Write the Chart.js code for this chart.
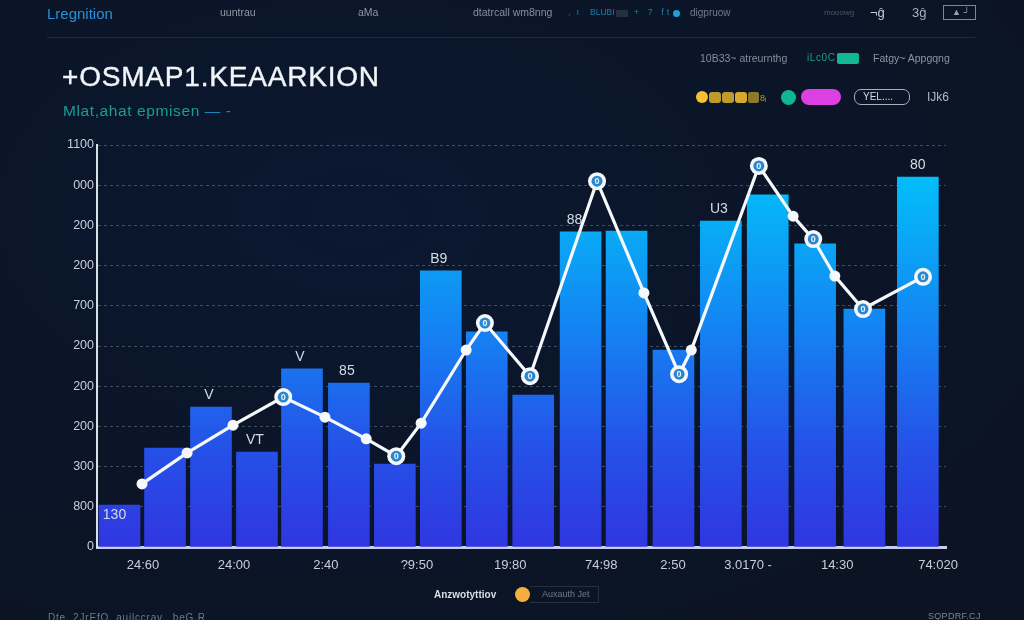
<!DOCTYPE html>
<html><head><meta charset="utf-8">
<script src="https://cdn.jsdelivr.net/npm/chart.js@4/dist/chart.umd.min.js"></script>
<style>
html,body{margin:0;padding:0;width:1024px;height:620px;overflow:hidden;background:radial-gradient(ellipse 75% 75% at 35% 35%,#0a1830 0%,#0b1528 60%,#0c1423 100%);font-family:"Liberation Sans",sans-serif}
canvas{position:absolute;left:0;top:0}
.t{position:absolute;white-space:nowrap;line-height:1}
.b{position:absolute;box-sizing:border-box}
</style></head><body>
<canvas id="c" width="1024" height="620"></canvas>
<div class="t" style="left:47px;top:6px;font-size:15px;color:#2a8fd8">Lregnition</div>
<div class="t" style="left:220px;top:7px;font-size:10.5px;color:#8f98a4">uuntrau</div>
<div class="t" style="left:358px;top:7px;font-size:10.5px;color:#8f98a4">aMa</div>
<div class="t" style="left:473px;top:7px;font-size:10.5px;color:#84909e">dtatrcall wm8nng</div>
<div class="t" style="left:568px;top:8px;font-size:9px;color:#1c7fa8;letter-spacing:6px">,ı</div>
<div class="t" style="left:590px;top:8px;font-size:8.5px;color:#1c7fa8">BLUBI</div>
<div class="b" style="left:616px;top:10px;width:12px;height:7px;background:#22303f"></div>
<div class="t" style="left:634px;top:8px;font-size:9px;color:#1c7fa8;letter-spacing:3px">+ 7 ft</div>
<div class="b" style="left:673px;top:10px;width:7px;height:7px;border-radius:50%;background:#1ea0d8"></div>
<div class="t" style="left:690px;top:8px;font-size:10px;color:#6f7c8c">digpruow</div>
<div class="t" style="left:824px;top:9px;font-size:8px;color:#4a5566">mooowg</div>
<div class="t" style="left:870px;top:6px;font-size:13px;color:#c4ccd6">¬ĝ</div>
<div class="t" style="left:912px;top:6px;font-size:13px;color:#a8b0bc">3ĝ</div>
<div class="b" style="left:943px;top:5px;width:33px;height:15px;border:1px solid #7c8694"></div>
<div class="t" style="left:952px;top:8px;font-size:9px;color:#9aa4b0">▲ ┘</div>
<div class="b" style="left:47px;top:37px;width:928px;height:1px;background:#1c2b44"></div>

<div class="t" style="left:62px;top:63px;font-size:28px;color:#f2f5f8;font-weight:400;letter-spacing:.8px;-webkit-text-stroke:.4px #f2f5f8">+OSMAP1.KEAARKION</div>
<div class="t" style="left:63px;top:103px;font-size:15.5px;color:#1c9c95;letter-spacing:.6px">Mlat,ahat epmisen <span style="color:#1d86b8">— -</span></div>

<div class="t" style="left:700px;top:53px;font-size:10.5px;color:#848d99">10B33~ atreurnthg</div>
<div class="t" style="left:807px;top:53px;font-size:10px;color:#14a08c;letter-spacing:.6px">iLc0C</div>
<div class="b" style="left:837px;top:53px;width:22px;height:11px;border-radius:2px;background:#12b692"></div>
<div class="t" style="left:873px;top:53px;font-size:10.5px;color:#8c96a0">Fatgy~ Appgqng</div>

<div class="b" style="left:696px;top:91px;width:12px;height:12px;border-radius:50%;background:#f7c02f"></div>
<div class="b" style="left:709px;top:92px;width:12px;height:11px;border-radius:3px;background:#c09a2c"></div>
<div class="b" style="left:722px;top:92px;width:12px;height:11px;border-radius:3px;background:#c09a2c"></div>
<div class="b" style="left:735px;top:92px;width:12px;height:11px;border-radius:3px;background:#d8a82c"></div>
<div class="b" style="left:748px;top:92px;width:11px;height:11px;border-radius:2px;background:#8c7a2c"></div>
<div class="t" style="left:760px;top:94px;font-size:9px;color:#b09a3c">8ᵢ</div>
<div class="b" style="left:781px;top:90px;width:15px;height:15px;border-radius:50%;background:#10b795"></div>
<div class="b" style="left:801px;top:89px;width:40px;height:16px;border-radius:8px;background:#dc3fe2"></div>
<div class="b" style="left:854px;top:89px;width:56px;height:16px;border-radius:7px;border:1px solid #a7b0bc"></div>
<div class="t" style="left:863px;top:92px;font-size:10px;color:#d5dbe2">YEL....</div>
<div class="t" style="left:927px;top:91px;font-size:12px;color:#b0b8c2">IJk6</div>

<div class="t" style="left:434px;top:590px;font-size:10px;font-weight:700;color:#d8dee6">Anzwotyttiov</div>
<div class="b" style="left:515px;top:587px;width:15px;height:15px;border-radius:50%;background:#f6ae3e"></div>
<div class="b" style="left:530px;top:586px;width:69px;height:17px;border:1px solid #26303f;border-left:none"></div>
<div class="t" style="left:542px;top:590px;font-size:9px;color:#707c8a">Auxauth Jet</div>
<div class="t" style="left:48px;top:613px;font-size:10px;color:#6f7a88;letter-spacing:.8px">Dte, 2JrEfO. auilccrav.. beG.R</div>
<div class="t" style="left:928px;top:612px;font-size:9px;color:#7a8592;letter-spacing:.3px">SQPDRF.CJ</div>

<script>
const barX = [0,.97,1.95,2.93,3.89,4.89,5.87,6.85,7.83,8.82,9.83,10.81,11.81,12.82,13.82,14.83,15.88,17.02];
const barValues = [104,246,348,236,443,408,206,687,535,378,784,786,490,811,876,754,592,920];
const barLabels = ['130','','V','VT','V','85','','B9','','','88','','','U3','','','','80'];
const lineX = [.48,1.44,2.42,3.49,4.38,5.26,5.9,6.43,7.39,7.79,8.75,10.18,11.18,11.93,12.19,13.63,14.36,14.79,15.25,15.85,17.13];
const lineValues = [157,234,303,373,323,269,226,308,490,557,425,910,632,430,490,948,823,766,674,592,672];
const lineRing = [0,0,0,1,0,0,1,0,0,1,1,1,0,1,0,1,0,1,0,1,1];
const yTickLabels = ['0','800','300','200','200','200','700','200','200','000','1100'];
const xTickPos = [.5,2.44,4.4,6.34,8.33,10.27,11.8,13.4,15.3,17.45];
const xTickLabels = ['24:60','24:00','2:40','?9:50','19:80','74:98','2:50','3.0170 -','14:30','74:020'];

const FONT = '"Liberation Sans",sans-serif';
function barFill(ctx){
  const a = ctx.chart.chartArea;
  if(!a) return '#1a70f0';
  const g = ctx.chart.ctx.createLinearGradient(0,a.bottom,0,a.top);
  g.addColorStop(0,'#3036e0');
  g.addColorStop(.25,'#2552e8');
  g.addColorStop(.55,'#1484f2');
  g.addColorStop(.8,'#08acf6');
  g.addColorStop(1,'#00c6fc');
  return g;
}
const annotate = {
  id:'annotate',
  afterDatasetsDraw(chart){
    const {ctx,scales:{x,y}} = chart;
    ctx.save();
    ctx.textAlign='center'; ctx.textBaseline='middle';
    lineX.forEach((v,i)=>{
      if(!lineRing[i]) return;
      const px=x.getPixelForValue(v), py=y.getPixelForValue(lineValues[i]);
      ctx.beginPath(); ctx.arc(px,py,5.5,0,Math.PI*2); ctx.fillStyle='#2a86cf'; ctx.fill();
      ctx.fillStyle='#eaf4fb'; ctx.font='bold 9px '+FONT; ctx.fillText('0',px,py+.5);
    });
    ctx.font='14px '+FONT; ctx.fillStyle='#d6dce4';
    barLabels.forEach((t,i)=>{
      if(!t) return;
      const px=x.getPixelForValue(barX[i]), py=y.getPixelForValue(barValues[i]);
      const shift = i===0?5:i===10?6:i===17?0:2;
      ctx.fillText(t,px-shift,i===0?py+10:py-12);
    });
    ctx.restore();
  }
};
new Chart(document.getElementById('c'),{
  data:{datasets:[
    {type:'line',order:0,data:lineX.map((v,i)=>({x:v,y:lineValues[i]})),borderColor:'#f6f9fc',borderWidth:3.2,tension:0,
     pointBackgroundColor:'#f6f9fc',pointBorderWidth:0,pointRadius:lineRing.map(r=>r?9:5.5)},
    {type:'bar',order:1,data:barX.map((v,i)=>({x:v,y:barValues[i]})),backgroundColor:barFill,barThickness:41,borderWidth:0}
  ]},
  options:{
    responsive:false,animation:false,
    layout:{padding:{left:0,right:78,top:145,bottom:33}},
    plugins:{legend:{display:false},tooltip:{enabled:false}},
    scales:{
      x:{type:'linear',offset:false,min:-.48,max:17.62,
        afterBuildTicks(s){s.ticks=xTickPos.map(v=>({value:v}));},
        afterFit(s){s.height=40;},
        grid:{display:false,offset:false},
        border:{color:'#c6cdee',width:3},
        ticks:{autoSkip:false,maxRotation:0,padding:3,color:'#c8ced8',font:{family:FONT,size:13},callback:(v,i)=>xTickLabels[i]}},
      y:{min:0,max:1000,
        afterFit(s){s.width=97;},
        grid:{color:'rgba(185,205,225,.3)',lineWidth:1,drawTicks:false},
        border:{color:'#d9e0ea',width:2,dash:[3,3]},
        ticks:{stepSize:100,padding:3,color:'#c8ced8',font:{family:FONT,size:12.5},callback:(v,i)=>yTickLabels[i]}}
    }
  },
  plugins:[annotate]
});
</script>
</body></html>
